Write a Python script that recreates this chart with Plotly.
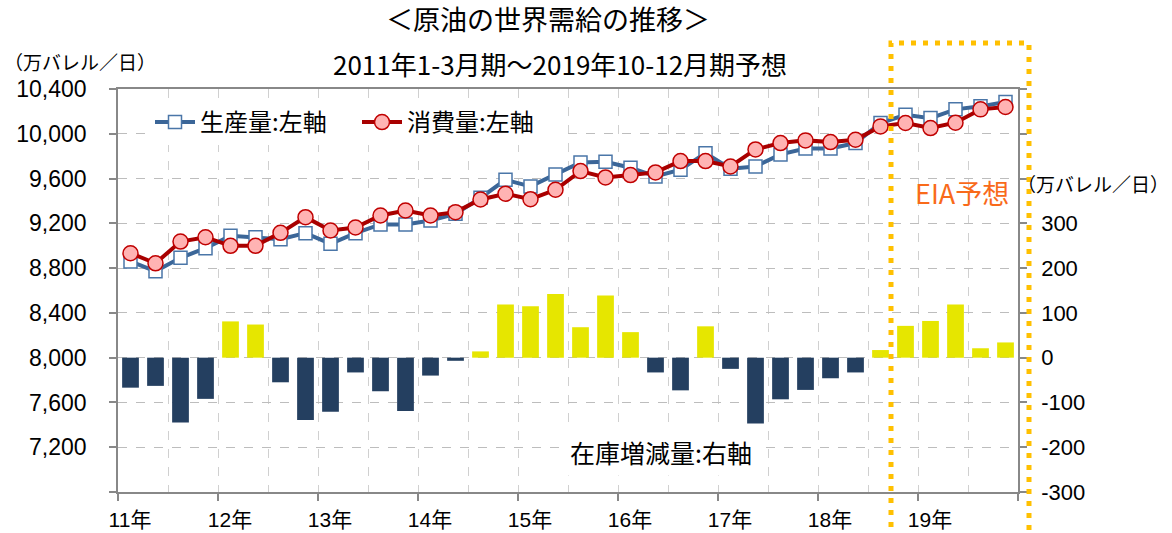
import plotly.graph_objects as go

# ---------------- data ----------------
years = ["11年", "12年", "13年", "14年", "15年", "16年", "17年", "18年", "19年"]
quarter_index = list(range(36))  # 2011Q1 .. 2019Q4

production = [8860, 8772, 8892, 8978, 9088, 9076, 9058, 9112, 9017, 9112, 9190, 9190,
              9225, 9285, 9428, 9589, 9530, 9637, 9744, 9750, 9697, 9619, 9679, 9827,
              9688, 9708, 9816, 9869, 9869, 9917, 10096, 10170, 10140, 10218, 10245, 10284]
consumption = [8933, 8843, 9037, 9076, 8999, 8999, 9115, 9255, 9136, 9163, 9270, 9315,
               9270, 9300, 9413, 9464, 9416, 9500, 9667, 9610, 9631, 9655, 9756, 9756,
               9708, 9860, 9917, 9941, 9926, 9947, 10066, 10096, 10051, 10099, 10218, 10239]
inventory = [-67, -63, -145, -92, 81, 74, -55, -139, -121, -33, -75, -119,
             -40, -7, 14, 119, 115, 142, 68, 139, 57, -33, -73, 70,
             -25, -147, -93, -72, -46, -33, 17, 71, 82, 119, 21, 34]

left_ticks = [6800, 7200, 7600, 8000, 8400, 8800, 9200, 9600, 10000, 10400]
right_ticks = [-300, -200, -100, 0, 100, 200, 300, 400, 500, 600]

# ---------------- style ----------------
JP = "Noto Sans CJK JP"
NUM = "Liberation Sans, Noto Sans CJK JP"
W, H = 1172, 533
L, R, T, B = 118, 154, 89, 41
pw, ph = W - L - R, H - T - B

def px_x(p):
    return (p - L) / pw

def px_y(p):
    return (H - B - p) / ph

POS = "#E6E600"
NEG = "#243F60"
bar_colors = [POS if v >= 0 else NEG for v in inventory]

fig = go.Figure()

fig.add_trace(go.Bar(
    x=quarter_index, y=inventory, yaxis="y", xaxis="x",
    marker=dict(color=bar_colors, line=dict(width=0)),
    width=0.67, showlegend=False, name="在庫増減量:右軸"))

fig.add_trace(go.Scatter(
    x=quarter_index, y=production, yaxis="y2", xaxis="x",
    mode="lines+markers", name="生産量:左軸",
    line=dict(color="#3B6698", width=4),
    marker=dict(symbol="square", size=13, color="white",
                line=dict(color="#4A76A8", width=1.5))))

fig.add_trace(go.Scatter(
    x=quarter_index, y=consumption, yaxis="y2", xaxis="x",
    mode="lines+markers", name="消費量:左軸",
    line=dict(color="#A80000", width=4),
    marker=dict(symbol="circle", size=15, color="#FFB3B3",
                line=dict(color="#C00000", width=1.5))))

year_bounds = [4 * k - 0.5 for k in range(10)]
year_text = years + [""]

fig.update_layout(
    width=W, height=H,
    margin=dict(l=L, r=R, t=T, b=B, autoexpand=False),
    paper_bgcolor="white", plot_bgcolor="white",
    xaxis=dict(
        range=[-0.5, 35.5], tickmode="array", tickvals=year_bounds, ticktext=year_text,
        ticklabelshift=12, ticks="outside", ticklen=7, tickcolor="#888888", tickwidth=1.5,
        showline=True, linecolor="#888888", linewidth=1.5, mirror=True,
        showgrid=True, gridcolor="#D0D0D0", griddash="dash", gridwidth=1,
        minor=dict(tickmode="array", tickvals=[4 * k + 1.5 for k in range(9)],
                   showgrid=True, gridcolor="#D0D0D0", griddash="dash", gridwidth=1, ticks=""),
        tickfont=dict(family=NUM, size=21, color="black"),
        ticklabelstandoff=1, zeroline=False, fixedrange=True),
    yaxis=dict(
        side="right", range=[-300, 600], tickmode="array", tickvals=right_ticks,
        ticktext=[str(v) if v <= 300 else "" for v in right_ticks],
        ticks="outside", ticklen=7, tickcolor="#888888", tickwidth=1.5,
        showline=True, linecolor="#888888", linewidth=1.5,
        showgrid=False, zeroline=False,
        tickfont=dict(family=NUM, size=22, color="black"), ticklabelstandoff=10),
    yaxis2=dict(
        overlaying="y", side="left", range=[6800, 10400], tickmode="array", tickvals=left_ticks,
        ticktext=[f"{v:,}" if v > 6800 else "" for v in left_ticks],
        ticks="outside", ticklen=7, tickcolor="#888888", tickwidth=1.5,
        showline=True, linecolor="#888888", linewidth=1.5,
        showgrid=True, gridcolor="#BDBDBD", griddash="dash", gridwidth=1, zeroline=False,
        tickfont=dict(family=NUM, size=23, color="black"), ticklabelstandoff=18),
    legend=dict(
        orientation="h", x=px_x(150), y=px_y(100), xanchor="left", yanchor="top",
        bgcolor="white", font=dict(family=JP, size=24, color="black"),
        entrywidth=152, itemwidth=40, traceorder="normal"),
    showlegend=True,
)

annotations = [
    dict(text="＜原油の世界需給の推移＞", x=px_x(548), y=px_y(18), xref="paper", yref="paper",
         showarrow=False, font=dict(family=JP, size=27, color="black"), xanchor="center", yanchor="middle"),
    dict(text="2011年1-3月期～2019年10-12月期予想", x=px_x(560), y=px_y(63), xref="paper", yref="paper",
         showarrow=False, font=dict(family=JP, size=26, color="black"), xanchor="center", yanchor="middle"),
    dict(text="（万バレル／日）", x=px_x(2), y=px_y(62), xref="paper", yref="paper",
         showarrow=False, font=dict(family=JP, size=19, color="black"), xanchor="left", yanchor="middle"),
    dict(text="（万バレル／日）", x=px_x(1015), y=px_y(183), xref="paper", yref="paper",
         showarrow=False, font=dict(family=JP, size=19, color="black"), xanchor="left", yanchor="middle"),
    dict(text="EIA予想", x=px_x(962), y=px_y(192), xref="paper", yref="paper",
         showarrow=False, font=dict(family=JP, size=27, color="#F96A1A"), xanchor="center", yanchor="middle"),
    dict(text="在庫増減量:右軸", x=px_x(661), y=px_y(452), xref="paper", yref="paper",
         showarrow=False, font=dict(family=JP, size=25, color="black"), xanchor="center", yanchor="middle",
         bgcolor="white", borderpad=5),
]
fig.update_layout(annotations=annotations)

fig.add_shape(type="rect", xref="paper", yref="paper",
              x0=px_x(891), x1=px_x(1029), y0=px_y(560), y1=px_y(43),
              line=dict(color="#FFC000", width=5, dash="5px,7px"),
              fillcolor="rgba(0,0,0,0)", layer="above")

fig.write_html("out.html", config={"displayModeBar": False},
               post_script="document.body.style.margin='0';document.body.style.overflow='hidden';")
